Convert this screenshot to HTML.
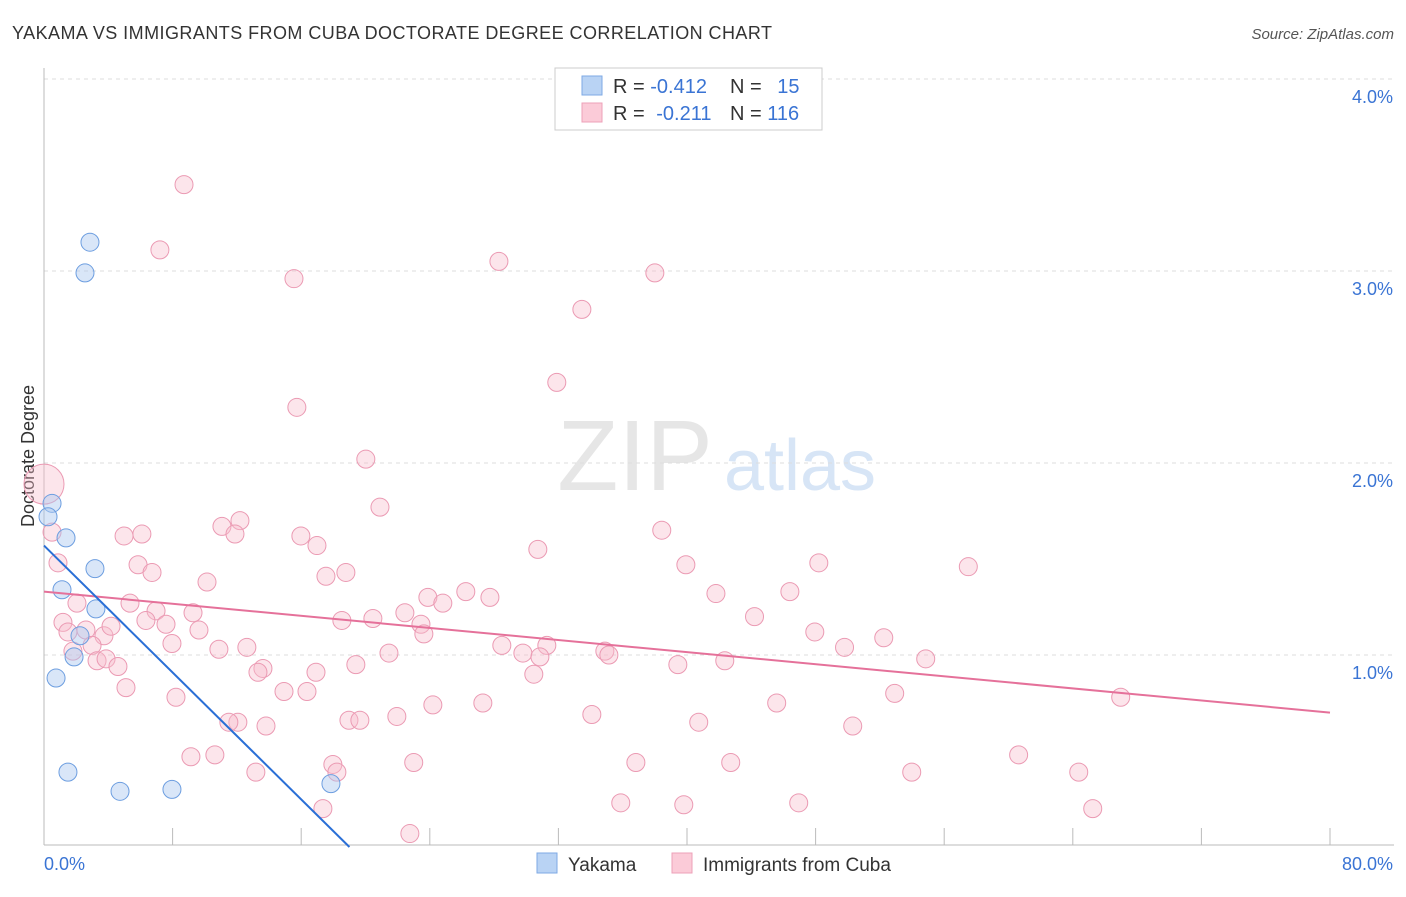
<!DOCTYPE html>
<html><head><meta charset="utf-8"><style>
body{margin:0;background:#fff;font-family:"Liberation Sans",sans-serif;}
svg text{font-family:"Liberation Sans",sans-serif;}
</style></head><body>
<svg id="chart" width="1406" height="892">
<text x="12" y="39" font-size="18" fill="#333" textLength="760">YAKAMA VS IMMIGRANTS FROM CUBA DOCTORATE DEGREE CORRELATION CHART</text>
<text x="1394" y="39" font-size="15" fill="#555" font-style="italic" text-anchor="end">Source: ZipAtlas.com</text>
<text x="34" y="456" font-size="18" fill="#333" transform="rotate(-90 34 456)" text-anchor="middle">Doctorate Degree</text>
<g><text x="635" y="490" font-size="100" fill="#e6e6e6" font-family="Liberation Serif" text-anchor="middle">ZIP</text><text x="800" y="490" font-size="72" fill="#d7e5f6" text-anchor="middle">atlas</text></g>
<g id="grid"></g><g id="marks"></g>
<g>
<rect x="555" y="68" width="267" height="62" fill="#fff" stroke="#ccc"/>
<rect x="582" y="76" width="20" height="19" fill="#b9d3f4" stroke="#7ea9e4"/>
<rect x="582" y="103" width="20" height="19" fill="#fbcbd8" stroke="#eea0b8"/>
<text x="613" y="93" font-size="20" fill="#333">R = <tspan fill="#3a74d4">-0.412</tspan></text>
<text x="730" y="93" font-size="20" fill="#333">N = <tspan fill="#3a74d4" dx="10">15</tspan></text>
<text x="613" y="120" font-size="20" fill="#333">R = <tspan fill="#3a74d4" dx="6">-0.211</tspan></text>
<text x="730" y="120" font-size="20" fill="#333">N = <tspan fill="#3a74d4">116</tspan></text>
</g>
<g>
<rect x="537" y="853" width="20" height="20" fill="#b9d3f4" stroke="#7ea9e4"/>
<text x="568" y="871" font-size="19" fill="#333">Yakama</text>
<rect x="672" y="853" width="20" height="20" fill="#fbcbd8" stroke="#eea0b8"/>
<text x="703" y="871" font-size="19" fill="#333">Immigrants from Cuba</text>
</g>
</svg>
<script>
const yTicks=[1,2,3,4];
const yTickLabels=["1.0%","2.0%","3.0%","4.0%"];
const xTicks=[0,8,16,24,32,40,48,56,64,72,80];
const blueX=[0.5,0.25,1.37,2.86,2.55,1.12,3.17,3.23,2.24,1.87,0.75,1.49,4.73,7.96,17.85];
const blueY=[1.79,1.72,1.61,3.15,2.99,1.34,1.45,1.24,1.1,0.99,0.88,0.39,0.29,0.3,0.33];
const pinkX=[8.71,7.21,15.55,28.3,38.0,33.46,31.9,15.73,20.02,20.9,0,0.5,11.07,12.19,11.88,4.98,6.09,15.98,16.98,30.72,38.43,0.87,5.85,6.72,10.14,17.54,18.78,39.93,48.2,57.5,26.24,27.74,23.88,24.81,22.45,20.46,18.53,23.45,23.63,41.8,46.4,44.2,2.05,5.35,6.97,9.27,6.34,7.59,9.64,1.18,1.49,2.61,3.73,4.17,47.95,52.24,49.8,28.48,31.28,29.79,30.85,21.46,12.62,10.88,7.96,2.99,1.8,3.3,3.86,4.6,34.89,35.14,39.43,42.35,54.85,13.62,13.31,16.92,19.4,30.47,5.1,14.93,16.36,8.21,24.19,27.3,45.58,52.92,66.98,21.95,18.97,19.65,12.06,11.5,13.81,34.08,40.73,50.31,9.14,10.63,17.97,18.22,13.18,23.0,36.82,42.72,60.63,53.98,64.37,35.88,39.8,46.95,17.35,65.24,22.76];
const pinkY=[3.45,3.11,2.96,3.05,2.99,2.8,2.42,2.29,2.02,1.77,1.89,1.64,1.67,1.7,1.63,1.62,1.63,1.62,1.57,1.55,1.65,1.48,1.47,1.43,1.38,1.41,1.43,1.47,1.48,1.46,1.33,1.3,1.3,1.27,1.22,1.19,1.18,1.16,1.11,1.32,1.33,1.2,1.27,1.27,1.23,1.22,1.18,1.16,1.13,1.17,1.12,1.13,1.1,1.15,1.12,1.09,1.04,1.05,1.05,1.01,0.99,1.01,1.04,1.03,1.06,1.05,1.02,0.97,0.98,0.94,1.02,1.0,0.95,0.97,0.98,0.93,0.91,0.91,0.95,0.9,0.83,0.81,0.81,0.78,0.74,0.75,0.75,0.8,0.78,0.68,0.66,0.66,0.65,0.65,0.63,0.69,0.65,0.63,0.47,0.48,0.43,0.39,0.39,0.44,0.44,0.44,0.48,0.39,0.39,0.23,0.22,0.23,0.2,0.2,0.07];
const blueTrendX=[0,19.0];
const blueTrendY=[1.57,0];
const pinkTrendX=[0,80];
const pinkTrendY=[1.33,0.70];
const X=v=>44+v*16.075, Y=v=>847-v*192;
const NS="http://www.w3.org/2000/svg";
const grid=document.getElementById('grid'), marks=document.getElementById('marks');
function mk(tag,attrs,parent){const e=document.createElementNS(NS,tag);for(const k in attrs)e.setAttribute(k,attrs[k]);parent.appendChild(e);return e;}
yTicks.forEach((t,i)=>{
  const l=mk('line',{x1:44,x2:1394,y1:Y(t),y2:Y(t),stroke:'#ddd','stroke-dasharray':'4,4'},grid);
  
  
  const tx=mk('text',{x:1393,y:Y(t)+24,'font-size':18,fill:'#3a74d4','text-anchor':'end'},grid);
  tx.textContent=yTickLabels[i];
  
  
});
const ax=mk('line',{x1:44,x2:1394,y1:845,y2:845,stroke:'#bbb'},grid);


const ay=mk('line',{x1:44,x2:44,y1:68,y2:845,stroke:'#bbb'},grid);


xTicks.forEach(t=>{
  const l=mk('line',{x1:X(t),x2:X(t),y1:828,y2:845,stroke:'#bbb'},grid);
  
  
});
const xl0=mk('text',{x:44,y:870,'font-size':18,fill:'#3a74d4'},grid);xl0.textContent='0.0%';


const xl1=mk('text',{x:1393,y:870,'font-size':18,fill:'#3a74d4','text-anchor':'end'},grid);xl1.textContent='80.0%';


pinkX.forEach((v,i)=>{
  const c=mk('circle',{cx:X(v),cy:Y(pinkY[i]),r:(v===0?20:9),fill:'rgba(248,190,205,0.4)',stroke:'#eb9ab3','stroke-width':1},marks);
  
  
});
blueX.forEach((v,i)=>{
  const c=mk('circle',{cx:X(v),cy:Y(blueY[i]),r:9,fill:'rgba(170,200,240,0.45)',stroke:'#6d9ee0','stroke-width':1},marks);
  
  
});
const pt=mk('line',{x1:X(pinkTrendX[0]),y1:Y(pinkTrendY[0]),x2:X(pinkTrendX[1]),y2:Y(pinkTrendY[1]),stroke:'#e5719a','stroke-width':2},marks);


const bt=mk('line',{x1:X(blueTrendX[0]),y1:Y(blueTrendY[0]),x2:X(blueTrendX[1]),y2:Y(blueTrendY[1]),stroke:'#2a6fd6','stroke-width':2},marks);


</script>
</body></html>
